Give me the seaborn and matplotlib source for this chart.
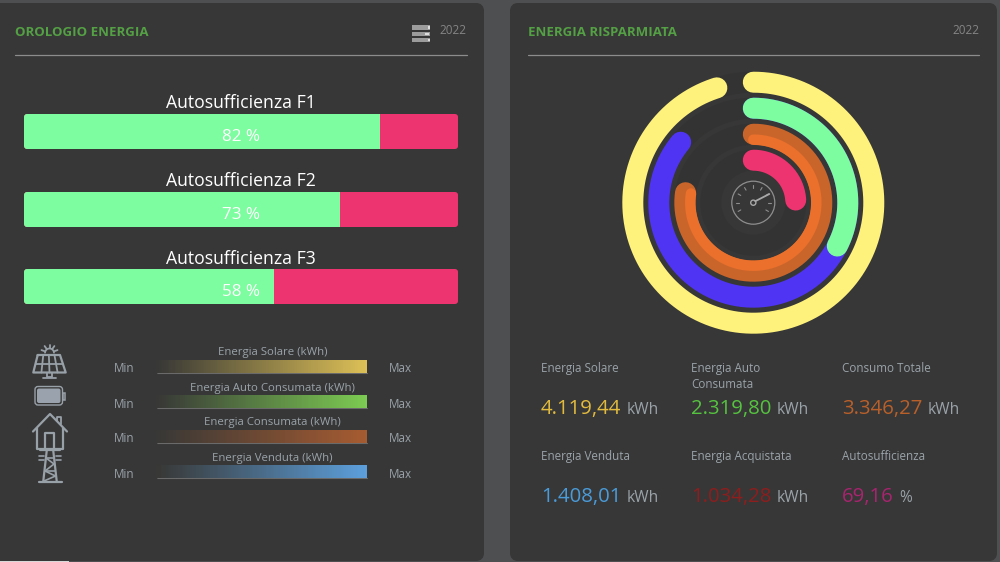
import numpy as np
import seaborn as sns
import matplotlib.pyplot as plt
from matplotlib.patches import Rectangle, FancyBboxPatch, Circle

# bars on the left panel
fasce = ["Autosufficienza F1", "Autosufficienza F2", "Autosufficienza F3"]
fasce_val = [82, 72.8, 57.6]

# gradient legend
legend_labels = ["Energia Solare (kWh)", "Energia Auto Consumata (kWh)", "Energia Consumata (kWh)", "Energia Venduta (kWh)"]
legend_colors = ["#dcbf56", "#7ccb52", "#a65b31", "#5c9fdc"]

# rings, sweep in degrees from 12 o'clock
ring_sweep_solare = 342.4
ring_sweep_venduta = 309.8
ring_sweep_auto = 117.3
ring_sweep_consumo = 278.4
ring_sweep_autosuff = 86.4

# numbers under the rings
stat_labels = ["Energia Solare", "Energia Auto\nConsumata", "Consumo Totale", "Energia Venduta", "Energia Acquistata", "Autosufficienza"]
stat_values = ["4.119,44", "2.319,80", "3.346,27", "1.408,01", "1.034,28", "69,16"]
stat_units = ["kWh", "kWh", "kWh", "kWh", "kWh", "%"]
stat_colors = ["#e2bb3e", "#56c340", "#b9602a", "#4a9bd9", "#8e1d1d", "#a8246f"]

PANEL = "#373737"
GREY = "#9aa3a9"
ICON = "#98a0a8"
W, H = 1000, 562

sns.set_theme(style="dark")
plt.rcParams["font.family"] = ["Open Sans", "DejaVu Sans"]

fig = plt.figure(figsize=(W / 100, H / 100), dpi=100, facecolor="#4e4f51")


def px_axes(x0, y0, x1, y1, **kw):
    return fig.add_axes([x0 / W, 1 - y1 / H, (x1 - x0) / W, (y1 - y0) / H], **kw)


def pts(px):
    return px * 0.72


bg = px_axes(0, 0, W, H)
bg.set_xlim(0, W)
bg.set_ylim(H, 0)
bg.set_axis_off()


def poly(points, lw=1.6, color=ICON):
    xs, ys = zip(*points)
    bg.plot(xs, ys, color=color, lw=lw, solid_capstyle="round", solid_joinstyle="round")


# panels
for x0, x1 in [(-8, 484), (510, 997)]:
    bg.add_patch(FancyBboxPatch((x0 + 4, 7), x1 - x0 - 8, 550, boxstyle="round,pad=0,rounding_size=4",
                                mutation_scale=1, fc=PANEL, ec=PANEL, lw=8 * 0.72))
bg.add_patch(Rectangle((0, 561), 69, 1, fc="#d8d8d8", ec="none"))

# headers
bg.text(15, 32, "OROLOGIO ENERGIA", color="#54a044", fontsize=pts(13.25), fontweight="bold", va="center")
bg.text(528, 32, "ENERGIA RISPARMIATA", color="#54a044", fontsize=pts(13.25), fontweight="bold", va="center")
bg.text(466.5, 31, "2022", color="#858585", fontsize=pts(11.8), va="center", ha="right")
bg.text(979, 31, "2022", color="#858585", fontsize=pts(11.8), va="center", ha="right")
bg.plot([15, 467], [55, 55], color="#8c8c8c", lw=0.9)
bg.plot([528, 979], [55, 55], color="#8c8c8c", lw=0.9)
for y0, y1, xl in [(25, 29.5, 428), (31.5, 36, 425), (37.5, 42, 428)]:
    bg.add_patch(Rectangle((412, y0), 18, y1 - y0, fc="#9c9c9c", ec="none"))
    bg.add_patch(Rectangle((xl, y0 + 1), 4 if xl == 425 else 2, y1 - y0 - 2, fc="#dedede", ec="none"))

# progress bars
bar_tops = [114, 192, 269]
for name, val, top in zip(fasce, fasce_val, bar_tops):
    ax = px_axes(24, top, 458, top + 35)
    ax.patch.set_alpha(0)
    sns.barplot(x=[100], y=[name], color="#ee3470", saturation=1, width=1, linewidth=0, ax=ax)
    sns.barplot(x=[val], y=[name], color="#7dfd9f", saturation=1, width=1, linewidth=0, ax=ax)
    ax.set_xlim(0, 100)
    ax.set_axis_off()
    clip = FancyBboxPatch((24, top), 434, 35, boxstyle="round,pad=0,rounding_size=3", mutation_scale=1, fc="none", ec="none")
    bg.add_patch(clip)
    for bar in ax.patches:
        bar.set_clip_path(clip)
    bg.text(240.5, top - 10.5, name, color="white", fontsize=pts(17.6), ha="center", va="center")
    ax.text(0.5, 0.33, f"{round(val)} %", color="white", fontsize=pts(17), ha="center", va="center", transform=ax.transAxes)

# gradient legend
ramp = np.linspace(0, 1, 120).reshape(1, -1)
legend_tops = [360, 395, 430, 465]
for label, col, top in zip(legend_labels, legend_colors, legend_tops):
    ax = px_axes(157, top, 367, top + 12.5)
    cmap = sns.blend_palette(["#383836", col], as_cmap=True)
    sns.heatmap(ramp, ax=ax, cmap=cmap, cbar=False, xticklabels=False, yticklabels=False)
    bg.plot([157, 367], [top + 13, top + 13], color="#6a6a6a", lw=0.8)
    bg.plot([157, 157], [top, top + 13], color="#555555", lw=0.8)
    bg.text(272.5, top - 7, label, color=GREY, fontsize=pts(11.35), ha="center", va="center")
    bg.text(124, top + 9, "Min", color=GREY, fontsize=pts(11.6), ha="center", va="center")
    bg.text(400.5, top + 9, "Max", color=GREY, fontsize=pts(11.6), ha="center", va="center")

# icon: solar panel
poly([(37.7, 355), (60, 355), (65.7, 372.5), (33.3, 372.5), (37.7, 355)])
poly([(35.5, 363.5), (63, 363.5)], lw=1.3)
for f in [0.25, 0.5, 0.75]:
    poly([(37.7 + 22.3 * f, 355), (33.3 + 32.4 * f, 372.5)], lw=1.3)
poly([(47, 373), (47, 377), (52, 377), (52, 373)], lw=1.3)
poly([(43, 377.5), (56, 377.5)], lw=1.3)
for a in np.radians([-70, -35, 0, 35, 70]):
    poly([(49.5 + 5.5 * np.sin(a), 353 - 5.5 * np.cos(a)), (49.5 + 8.5 * np.sin(a), 353 - 8.5 * np.cos(a))], lw=1.3)
bg.plot(49.5 + 4.5 * np.sin(np.linspace(-1.5, 1.5, 20)), 353 - 4.5 * np.cos(np.linspace(-1.5, 1.5, 20)), color=ICON, lw=1.3)

# icon: battery
bg.add_patch(FancyBboxPatch((35, 386.5), 27.5, 18.5, boxstyle="round,pad=0,rounding_size=3", mutation_scale=1, fc=PANEL, ec=ICON, lw=1))
bg.add_patch(FancyBboxPatch((37, 388.5), 23.5, 14.5, boxstyle="round,pad=0,rounding_size=2", mutation_scale=1, fc="#9aa3ad", ec="none"))
bg.add_patch(Rectangle((62.5, 392.5), 2.5, 7.5, fc="none", ec=ICON, lw=1.1))

# icon: house
poly([(33, 431.5), (50, 414), (67, 431.5)])
poly([(36.7, 428), (36.7, 448.5), (63.3, 448.5), (63.3, 428)])
poly([(45, 448), (45, 432.7), (54, 432.7), (54, 448)])
poly([(57.3, 421), (57.3, 417.3), (60.7, 417.3), (60.7, 424)], lw=1.3)

# icon: pylon
poly([(46.7, 451), (43.3, 481)])
poly([(53.3, 451), (56.7, 481)])
poly([(38.5, 481.8), (61.5, 481.8)])
poly([(40, 450), (60, 450)])
poly([(46, 458), (54, 464), (45, 471), (55.5, 476), (44, 481)], lw=1.2)
poly([(46, 458), (54, 458)], lw=1.2)
poly([(45, 471), (55, 471)], lw=1.2)
for y in [456, 459.5]:
    poly([(39, y), (43.5, y)], lw=1.2)
    poly([(56, y), (60.5, y)], lw=1.2)

# rings
rmax = 135
rax = px_axes(753.3 - rmax, 202.7 - rmax, 753.3 + rmax, 202.7 + rmax, projection="polar")
rax.patch.set_alpha(0)
rax.set_theta_zero_location("N")
rax.set_theta_direction(-1)


def ring(sweep, r, width, color):
    theta = np.radians(np.linspace(0, sweep, 300))
    sns.lineplot(x=theta, y=np.full_like(theta, r), ax=rax, color=color, linewidth=pts(width),
                 sort=False, estimator=None, solid_capstyle="round")


for r in [120.5, 94.5, 68.5, 42.5]:
    ring(360, r, 21, "#333333")
ring(ring_sweep_solare, 120.5, 21, "#fef27c")
ring(ring_sweep_venduta, 94.5, 21, "#4f35f3")
ring(ring_sweep_auto, 94.5, 21, "#7dfd9f")
ring(ring_sweep_consumo, 68.5, 21, "#c9652b")
ring(ring_sweep_consumo, 63, 10.5, "#ea702b")
ring(ring_sweep_autosuff, 42.5, 21, "#ee3470")
rax.set_ylim(0, rmax)
rax.set_axis_off()

# gauge in the middle
gx, gy = 753.3, 202.7
bg.add_patch(Circle((gx, gy), 21.5, fc="none", ec="#8e8e8e", lw=0.9))
for a in np.radians(np.arange(-120, 121, 30)):
    poly([(gx + 14.5 * np.sin(a), gy - 14.5 * np.cos(a)), (gx + 17.5 * np.sin(a), gy - 17.5 * np.cos(a))], lw=0.8, color="#8e8e8e")
poly([(gx + 2, gy - 1.5), (769.3, 194)], lw=1.3, color="#a8a8a8")
bg.add_patch(Circle((gx, gy), 2.6, fc=PANEL, ec="#a8a8a8", lw=1))

# stat blocks
stat_x = [541, 691, 842, 541, 691, 842]
stat_y = [369, 369, 369, 457, 457, 457]
fig.canvas.draw()
rend = fig.canvas.get_renderer()
for x, y, lab, val, unit, col in zip(stat_x, stat_y, stat_labels, stat_values, stat_units, stat_colors):
    bg.text(x, y - 7, lab, color=GREY, fontsize=pts(11.6), va="top", linespacing=1.3)
    vy = y + 45
    t = bg.text(x, vy, val, color=col, fontsize=pts(20.4), va="baseline")
    right = t.get_window_extent(rend).x1
    bg.text(right + 5, vy, unit, color=GREY, fontsize=pts(15.5), va="baseline")

fig.savefig("out.png", dpi=100, facecolor=fig.get_facecolor())
